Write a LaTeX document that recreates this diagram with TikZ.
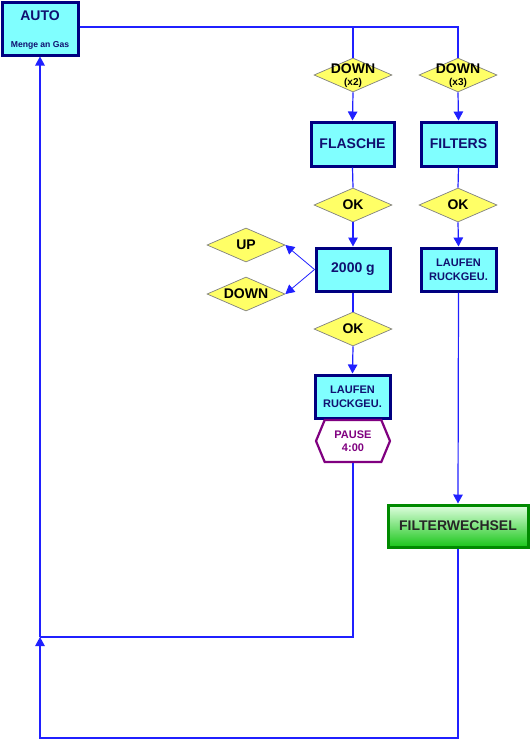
\documentclass[tikz,border=0pt]{standalone}
\usepackage{fontspec}
\setmainfont{Liberation Sans}
\usetikzlibrary{shapes.geometric, shapes.symbols, arrows.meta}

\definecolor{boxfill}{HTML}{80FFFF}
\definecolor{boxline}{HTML}{000080}
\definecolor{boxtext}{HTML}{101070}
\definecolor{askfill}{HTML}{FFFF66}
\definecolor{linkblue}{HTML}{2020FF}
\definecolor{pausecol}{HTML}{800080}
\definecolor{greenline}{HTML}{008A00}

\tikzset{
  menu/.style={draw=boxline, line width=3pt, fill=boxfill, text=boxtext,
    font=\bfseries\fontsize{14}{16}\selectfont, inner sep=0pt, align=center},
  menusmall/.style={menu, font=\bfseries\fontsize{11}{14}\selectfont},
  ask/.style={diamond, draw=gray, line width=0.7pt, fill=askfill, inner sep=0pt,
    minimum width=78pt, minimum height=34pt},
  asktext/.style={align=center, inner sep=0pt, font=\bfseries\fontsize{14}{14}\selectfont},
  link/.style={draw=linkblue, line width=1.2pt},
  go/.style={link, -{Triangle[length=9pt,width=9.5pt]}},
}

\begin{document}
\begin{tikzpicture}[x=1pt, y=-1pt]
\useasboundingbox (0,0) rectangle (530,739);

\node[menu, minimum width=76pt, minimum height=53pt] (auto) at (40,28.5) {};
\node[text=boxtext, font=\bfseries\fontsize{14}{16}\selectfont] (autoname) at (40,16) {AUTO};
\node[text=boxtext, font=\bfseries\fontsize{8.6}{10}\selectfont] (autonote) at (40,45) {Menge an Gas};

\node[ask] (d2) at (353,75) {};
\node[asktext] (d2t) at (353,69) {DOWN};
\node[asktext, font=\bfseries\fontsize{10}{12}\selectfont] (d2n) at (353,83) {(x2)};
\node[ask] (d3) at (458,75) {};
\node[asktext] (d3t) at (458,69) {DOWN};
\node[asktext, font=\bfseries\fontsize{10}{12}\selectfont] (d3n) at (458,83) {(x3)};

\node[menu, minimum width=83pt, minimum height=44pt] (flasche) at (352.5,144) {FLASCHE};
\node[menu, minimum width=75pt, minimum height=44pt] (filters) at (458.5,144) {FILTERS};

\node[ask, label={[asktext]center:OK}] (ok1) at (353,205) {};
\node[ask, label={[asktext]center:OK}] (ok2) at (458,205) {};

\node[menu, minimum width=74pt, minimum height=43pt] (gramm) at (353,269.5) {2000 g};
\node[menusmall, minimum width=75pt, minimum height=43pt] (run2) at (458.5,269.5) {LAUFEN\\RUCKGEU.};

\node[ask, label={[asktext]center:UP}] (up) at (246,245) {};
\node[ask, label={[asktext]center:DOWN}] (down) at (246,294) {};

\node[ask, label={[asktext]center:OK}] (ok3) at (353,329) {};
\node[menusmall, minimum width=75pt, minimum height=43pt] (run1) at (352.5,396.5) {LAUFEN\\RUCKGEU.};

\node[signal, signal to=west and east, signal pointer angle=135, draw=pausecol,
  line width=2.2pt, fill=white, text=pausecol, inner sep=0pt,
  minimum width=74pt, minimum height=42pt, align=center,
  font=\bfseries\fontsize{11}{13}\selectfont] (pause) at (353,441) {PAUSE\\4:00};

\node[draw=greenline, line width=3pt, top color=green!12!white, bottom color=green!75!black!90,
  minimum width=140pt, minimum height=42pt, inner sep=0pt,
  font=\bfseries\fontsize{14}{16}\selectfont, text=black!85] (change) at (458,526) {FILTERWECHSEL};

\coordinate (top3) at (458,27);
\coordinate (midturn) at (353,637);
\coordinate (midjoin) at (40,637);
\coordinate (lowturn) at (458,738);
\coordinate (lowjoin) at (40,738);

% main menu to both branches
\draw[link] (auto.east |- top3) -- (top3) -- (d3.north);
\draw[link] (d2.north |- top3) -- (d2.north);

% left branch
\draw[go] (d2.south) -- (flasche.north);
\draw[link] (flasche.south) -- (ok1.north);
\draw[go] (ok1.south) -- (gramm.north);
\draw[go, line width=0.8pt] (gramm.west) -- (up.east);
\draw[go, line width=0.8pt] (gramm.west) -- (down.east);
\draw[link] (gramm.south) -- (ok3.north);
\draw[go] (ok3.south) -- (run1.north);
\draw[link] (pause.south) -- (midturn) -- (midjoin);

% right branch
\draw[go] (d3.south) -- (filters.north);
\draw[link] (filters.south) -- (ok2.north);
\draw[go] (ok2.south) -- (run2.north);
\draw[go] (run2.south) -- (change.north);
\draw[go] (change.south) -- (lowturn) -- (lowjoin) -- (midjoin);

% back to the main menu
\draw[go] (midjoin) -- (auto.south);
\end{tikzpicture}
\end{document}
